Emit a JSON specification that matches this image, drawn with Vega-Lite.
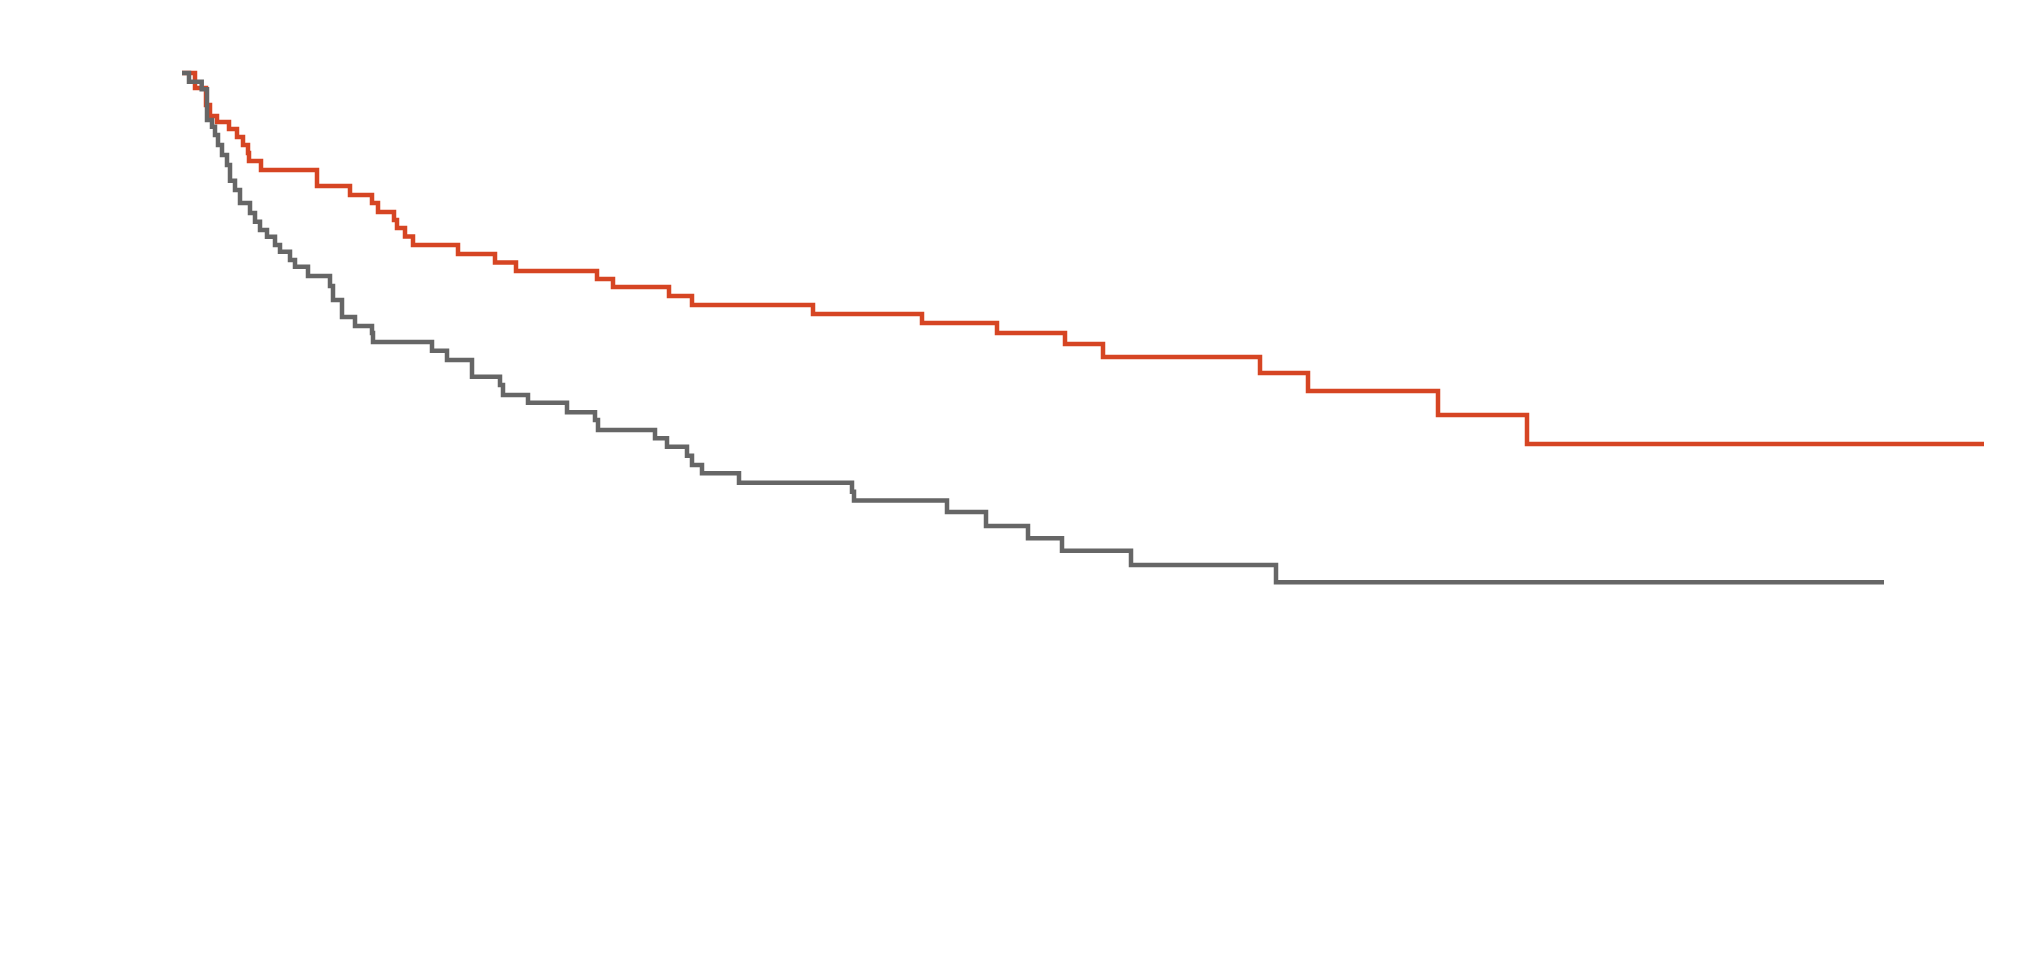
{
  "$schema": "https://vega.github.io/schema/vega-lite/v6.json",
  "width": 2033,
  "height": 979,
  "autosize": {"type": "fit", "contains": "padding"},
  "padding": 0,
  "background": "#ffffff",
  "config": {"view": {"stroke": null}},
  "datasets": {
    "treated": [
      {"time": 0, "survival": 1.0},
      {"time": 1.3, "survival": 0.9819},
      {"time": 2.4, "survival": 0.9613},
      {"time": 2.8, "survival": 0.948},
      {"time": 3.5, "survival": 0.9407},
      {"time": 4.7, "survival": 0.9323},
      {"time": 5.5, "survival": 0.9226},
      {"time": 6.1, "survival": 0.9129},
      {"time": 6.6, "survival": 0.9033},
      {"time": 6.7, "survival": 0.8936},
      {"time": 7.9, "survival": 0.8827},
      {"time": 13.5, "survival": 0.8634},
      {"time": 16.8, "survival": 0.8525},
      {"time": 19.0, "survival": 0.8428},
      {"time": 19.6, "survival": 0.8319},
      {"time": 21.2, "survival": 0.8222},
      {"time": 21.5, "survival": 0.8126},
      {"time": 22.3, "survival": 0.8023},
      {"time": 23.1, "survival": 0.792},
      {"time": 27.6, "survival": 0.7811},
      {"time": 31.3, "survival": 0.7709},
      {"time": 33.4, "survival": 0.7606},
      {"time": 41.5, "survival": 0.7509},
      {"time": 43.1, "survival": 0.7412},
      {"time": 48.7, "survival": 0.7304},
      {"time": 51.0, "survival": 0.7195},
      {"time": 63.1, "survival": 0.7086},
      {"time": 74.0, "survival": 0.6977},
      {"time": 81.5, "survival": 0.6856},
      {"time": 88.3, "survival": 0.6723},
      {"time": 92.1, "survival": 0.6566},
      {"time": 107.8, "survival": 0.6372},
      {"time": 112.6, "survival": 0.6155},
      {"time": 125.6, "survival": 0.5865},
      {"time": 134.5, "survival": 0.5514},
      {"time": 180.2, "survival": 0.5514}
    ],
    "control": [
      {"time": 0, "survival": 1.0},
      {"time": 0.7, "survival": 0.9895},
      {"time": 1.97, "survival": 0.9803},
      {"time": 2.5, "survival": 0.9432},
      {"time": 3.0, "survival": 0.9351},
      {"time": 3.3, "survival": 0.925},
      {"time": 3.6, "survival": 0.9129},
      {"time": 4.0, "survival": 0.9008},
      {"time": 4.5, "survival": 0.8888},
      {"time": 4.8, "survival": 0.8698},
      {"time": 5.3, "survival": 0.8585},
      {"time": 5.8, "survival": 0.8428},
      {"time": 6.8, "survival": 0.8307},
      {"time": 7.3, "survival": 0.8202},
      {"time": 7.8, "survival": 0.8102},
      {"time": 8.5, "survival": 0.8021},
      {"time": 9.3, "survival": 0.792},
      {"time": 9.8, "survival": 0.7839},
      {"time": 10.8, "survival": 0.7739},
      {"time": 11.3, "survival": 0.7658},
      {"time": 12.6, "survival": 0.7545},
      {"time": 14.8, "survival": 0.7424},
      {"time": 15.1, "survival": 0.7255},
      {"time": 16.0, "survival": 0.705},
      {"time": 17.3, "survival": 0.6941},
      {"time": 19.0, "survival": 0.6856},
      {"time": 19.1, "survival": 0.6747},
      {"time": 25.0, "survival": 0.6642},
      {"time": 26.5, "survival": 0.653},
      {"time": 29.0, "survival": 0.6328},
      {"time": 31.8, "survival": 0.6227},
      {"time": 32.1, "survival": 0.6106},
      {"time": 34.6, "survival": 0.6013},
      {"time": 38.5, "survival": 0.5897},
      {"time": 41.3, "survival": 0.5804},
      {"time": 41.6, "survival": 0.5683},
      {"time": 47.3, "survival": 0.5583},
      {"time": 48.5, "survival": 0.5481},
      {"time": 50.5, "survival": 0.5372},
      {"time": 51.0, "survival": 0.526},
      {"time": 52.0, "survival": 0.516},
      {"time": 55.7, "survival": 0.5046},
      {"time": 67.0, "survival": 0.4937},
      {"time": 67.2, "survival": 0.4831},
      {"time": 76.5, "survival": 0.4692},
      {"time": 80.4, "survival": 0.4522},
      {"time": 84.6, "survival": 0.4374},
      {"time": 88.0, "survival": 0.4224},
      {"time": 94.9, "survival": 0.4051},
      {"time": 109.4, "survival": 0.3842},
      {"time": 170.2, "survival": 0.3842}
    ]
  },
  "layer": [
    {
      "data": {"name": "treated"},
      "mark": {"type": "line", "interpolate": "step-after", "color": "#d64523", "strokeWidth": 4.5},
      "encoding": {
        "x": {"field": "time", "type": "quantitative", "axis": null, "scale": {"domain": [-18.2, 185.1], "nice": false, "zero": false}},
        "y": {"field": "survival", "type": "quantitative", "axis": null, "scale": {"domain": [-0.09553, 1.08827], "nice": false, "zero": false}}
      }
    },
    {
      "data": {"name": "control"},
      "mark": {"type": "line", "interpolate": "step-after", "color": "#666666", "strokeWidth": 4.5},
      "encoding": {
        "x": {"field": "time", "type": "quantitative", "axis": null, "scale": {"domain": [-18.2, 185.1], "nice": false, "zero": false}},
        "y": {"field": "survival", "type": "quantitative", "axis": null, "scale": {"domain": [-0.09553, 1.08827], "nice": false, "zero": false}}
      }
    }
  ]
}
